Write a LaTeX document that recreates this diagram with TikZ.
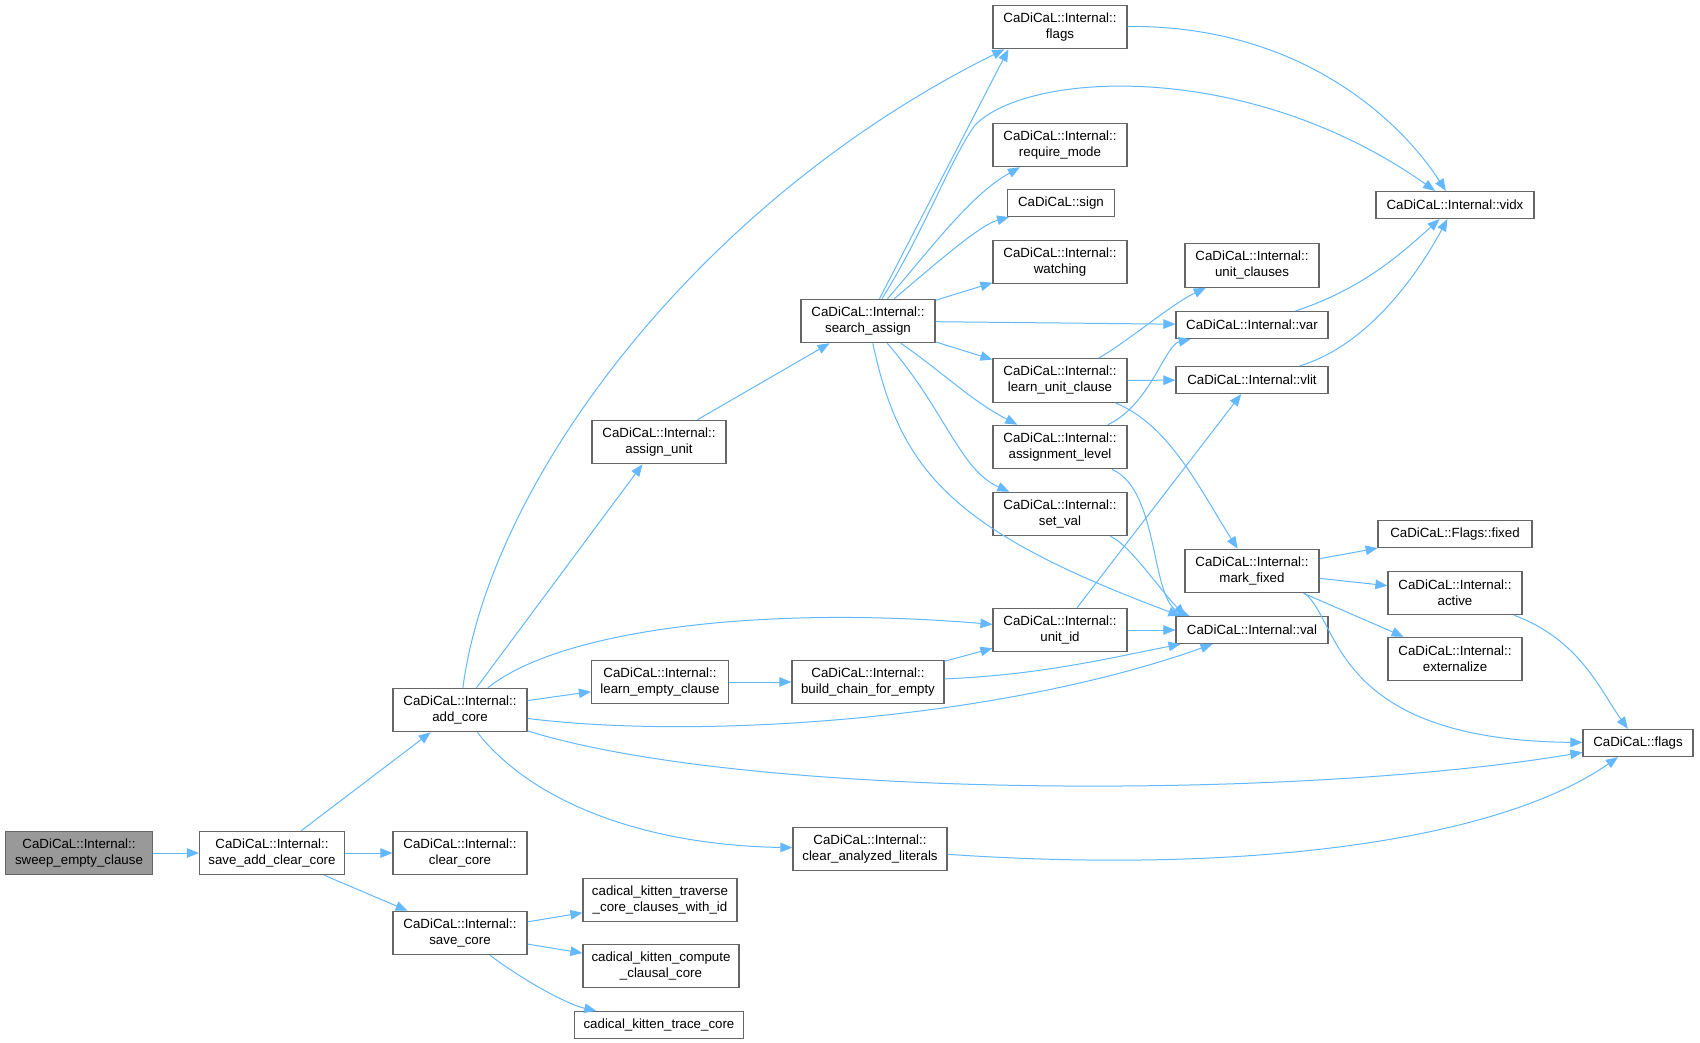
\documentclass[tikz,border=0pt]{standalone}
\usepackage{fontspec}
\setmainfont{Liberation Sans}
\definecolor{edgeblue}{HTML}{63B8FF}
\definecolor{boxgray}{HTML}{666666}
\definecolor{rootgray}{HTML}{999999}
\usetikzlibrary{arrows.meta}

\begin{document}
\begin{tikzpicture}[x=1pt, y=-1pt,
    fn/.style={draw=boxgray, fill=white, line width=1.2pt, inner sep=0pt,
      minimum height=43.4pt, align=center, font=\fontsize{13.3}{16}\selectfont},
    fnone/.style={fn, minimum height=27pt},
    root/.style={fn, fill=rootgray},
    edge/.style={draw=edgeblue, line width=1pt, -{Triangle[length=12pt,width=9.5pt]}},
  ]
    \fill[white] (0,0) rectangle (1700,1043);
    \useasboundingbox (0,0) rectangle (1700,1043);

    \node[root, minimum width=147pt] (sweep) at (79,853) {CaDiCaL::Internal::\\sweep\_empty\_clause};
    \node[fn, minimum width=145pt] (sacc) at (272,853) {CaDiCaL::Internal::\\save\_add\_clear\_core};
    \node[fn, minimum width=134pt] (addc) at (460,710) {CaDiCaL::Internal::\\add\_core};
    \node[fn, minimum width=134pt] (clearc) at (460,853) {CaDiCaL::Internal::\\clear\_core};
    \node[fn, minimum width=134pt] (savec) at (460,933) {CaDiCaL::Internal::\\save\_core};
    \node[fn, minimum width=134pt] (assignu) at (659,442) {CaDiCaL::Internal::\\assign\_unit};
    \node[fn, minimum width=137pt] (learnec) at (660,682) {CaDiCaL::Internal::\\learn\_empty\_clause};
    \node[fn, minimum width=154pt] (traverse) at (660,900) {cadical\_kitten\_traverse\\\_core\_clauses\_with\_id};
    \node[fn, minimum width=156pt] (compute) at (661,966) {cadical\_kitten\_compute\\\_clausal\_core};
    \node[fnone, minimum width=169pt] (tracec) at (659,1025) {cadical\_kitten\_trace\_core};
    \node[fn, minimum width=134pt] (searcha) at (868,321) {CaDiCaL::Internal::\\search\_assign};
    \node[fn, minimum width=152pt] (buildc) at (868,682) {CaDiCaL::Internal::\\build\_chain\_for\_empty};
    \node[fn, minimum width=154pt] (clearal) at (870,849) {CaDiCaL::Internal::\\clear\_analyzed\_literals};
    \node[fn, minimum width=134pt] (iflags) at (1060,27) {CaDiCaL::Internal::\\flags};
    \node[fn, minimum width=134pt] (reqmode) at (1060,145) {CaDiCaL::Internal::\\require\_mode};
    \node[fnone, minimum width=107pt] (sign) at (1061,203) {CaDiCaL::sign};
    \node[fn, minimum width=134pt] (watching) at (1060,262) {CaDiCaL::Internal::\\watching};
    \node[fn, minimum width=134pt] (learnuc) at (1060,380.5) {CaDiCaL::Internal::\\learn\_unit\_clause};
    \node[fn, minimum width=134pt] (asslevel) at (1060,447) {CaDiCaL::Internal::\\assignment\_level};
    \node[fn, minimum width=134pt] (setval) at (1060,514) {CaDiCaL::Internal::\\set\_val};
    \node[fn, minimum width=134pt] (unitid) at (1060,630) {CaDiCaL::Internal::\\unit\_id};
    \node[fnone, minimum width=158pt] (vidx) at (1455,205) {CaDiCaL::Internal::vidx};
    \node[fn, minimum width=134pt] (unitcl) at (1252,265.5) {CaDiCaL::Internal::\\unit\_clauses};
    \node[fnone, minimum width=152pt] (var) at (1252,325) {CaDiCaL::Internal::var};
    \node[fnone, minimum width=152pt] (vlit) at (1252,380) {CaDiCaL::Internal::vlit};
    \node[fn, minimum width=134pt] (markfx) at (1252,571) {CaDiCaL::Internal::\\mark\_fixed};
    \node[fnone, minimum width=152pt] (val) at (1252,630) {CaDiCaL::Internal::val};
    \node[fnone, minimum width=154pt] (ffixed) at (1455,534) {CaDiCaL::Flags::fixed};
    \node[fn, minimum width=134pt] (active) at (1455,593) {CaDiCaL::Internal::\\active};
    \node[fn, minimum width=134pt] (extern) at (1455,659) {CaDiCaL::Internal::\\externalize};
    \node[fnone, minimum width=110pt] (cflags) at (1638,743) {CaDiCaL::flags};

    \draw[edge] (sweep) -- (sacc);
    \draw[edge] (sacc) -- (addc);
    \draw[edge] (sacc) -- (clearc);
    \draw[edge] (sacc) -- (savec);
    \draw[edge] (savec) -- (traverse);
    \draw[edge] (savec) -- (compute);
    \draw[edge] (savec) .. controls (530,985) and (570,1005) .. (tracec);
    \draw[edge] (addc) .. controls (490,480) and (700,200) .. ([xshift=12pt]iflags.south west);
    \draw[edge] (addc) -- (assignu);
    \draw[edge] (addc) .. controls (560,630) and (760,605) .. (unitid);
    \draw[edge] (addc) -- (learnec);
    \draw[edge] (addc) .. controls (700,740) and (1000,720) .. (val);
    \draw[edge] (addc) .. controls (750,800) and (1300,800) .. (cflags);
    \draw[edge] (addc) .. controls (530,800) and (640,845) .. (clearal);
    \draw[edge] (assignu) -- (searcha);
    \draw[edge] (learnec) -- (buildc);
    \draw[edge] (buildc) -- (unitid);
    \draw[edge] (buildc) .. controls (1040,675) and (1110,658) .. (val);
    \draw[edge] (clearal) .. controls (1250,875) and (1500,840) .. (cflags);

    \draw[edge] (searcha) -- ([xshift=16pt]iflags.south west);
    \draw[edge] (searcha) .. controls (925,230) and (950,160) .. (975,125)
      .. controls (1030,70) and (1250,60) .. (vidx);
    \draw[edge] (searcha) .. controls (930,250) and (970,195) .. (reqmode);
    \draw[edge] (searcha) .. controls (940,260) and (980,225) .. (sign);
    \draw[edge] (searcha) -- (watching);
    \draw[edge] (searcha) -- (var);
    \draw[edge] (searcha) -- (learnuc);
    \draw[edge] (searcha) .. controls (940,370) and (970,400) .. (asslevel);
    \draw[edge] (searcha) .. controls (945,410) and (960,470) .. (setval);
    \draw[edge] (searcha) .. controls (900,470) and (950,530) .. ([xshift=5pt]val.north west);

    \draw[edge] (iflags) .. controls (1300,25) and (1400,120) .. (vidx);
    \draw[edge] (learnuc) .. controls (1130,340) and (1170,305) .. (unitcl);
    \draw[edge] (learnuc) -- (vlit);
    \draw[edge] (learnuc) .. controls (1170,425) and (1200,490) .. (markfx);
    \draw[edge] (asslevel) .. controls (1150,405) and (1165,345) .. (var);
    \draw[edge] (asslevel) .. controls (1160,490) and (1150,600) .. ([xshift=14pt]val.north west);
    \draw[edge] (setval) .. controls (1130,545) and (1160,590) .. ([xshift=10pt]val.north west);
    \draw[edge] (unitid) -- (vlit);
    \draw[edge] (unitid) -- (val);
    \draw[edge] (var) .. controls (1360,290) and (1400,255) .. (vidx);
    \draw[edge] (vlit) .. controls (1370,345) and (1420,270) .. (vidx);
    \draw[edge] (markfx) -- (ffixed);
    \draw[edge] (markfx) -- (active);
    \draw[edge] (markfx) -- (extern);
    \draw[edge] ([xshift=-15pt]markfx.south east) .. controls (1340,620) and (1330,740) .. (cflags);
    \draw[edge] (active) .. controls (1580,640) and (1600,690) .. (cflags);
  \end{tikzpicture}
\end{document}
